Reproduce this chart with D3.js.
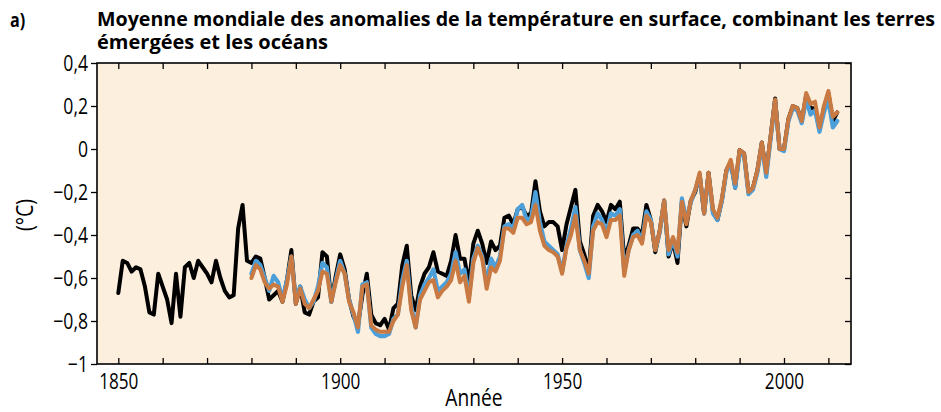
<!DOCTYPE html>
<html><head><meta charset="utf-8">
<script src="https://cdn.jsdelivr.net/npm/d3@7"></script>
<style>body{margin:0;background:#fff} svg{display:block}</style>
</head><body><svg id="c" width="941" height="412"></svg>
<script>
// ---------- data ----------
const firstYearHad = 1850;
const firstYearOthers = 1880;
// HadCRUT4 (black)
const hadcrut4 = [
-0.67,-0.52,-0.53,-0.57,-0.55,-0.56,-0.64,-0.76,-0.77,-0.58,
-0.64,-0.70,-0.81,-0.58,-0.78,-0.55,-0.53,-0.60,-0.52,-0.55,
-0.58,-0.62,-0.52,-0.60,-0.66,-0.69,-0.68,-0.37,-0.26,-0.52,
-0.53,-0.50,-0.51,-0.60,-0.70,-0.68,-0.66,-0.71,-0.61,-0.47,
-0.72,-0.64,-0.76,-0.77,-0.71,-0.69,-0.48,-0.50,-0.71,-0.59,
-0.49,-0.56,-0.70,-0.78,-0.82,-0.68,-0.58,-0.77,-0.81,-0.82,
-0.79,-0.84,-0.74,-0.72,-0.54,-0.45,-0.68,-0.75,-0.64,-0.58,
-0.55,-0.48,-0.57,-0.58,-0.59,-0.52,-0.40,-0.51,-0.51,-0.63,
-0.44,-0.38,-0.44,-0.53,-0.43,-0.47,-0.45,-0.32,-0.31,-0.35,
-0.28,-0.27,-0.31,-0.30,-0.15,-0.29,-0.36,-0.34,-0.34,-0.36,
-0.47,-0.35,-0.27,-0.19,-0.43,-0.49,-0.57,-0.31,-0.26,-0.29,
-0.34,-0.26,-0.28,-0.245,-0.51,-0.45,-0.37,-0.37,-0.40,-0.26,
-0.33,-0.48,-0.38,-0.24,-0.50,-0.43,-0.53,-0.245,-0.36,-0.24,
-0.20,-0.12,-0.30,-0.11,-0.29,-0.33,-0.24,-0.10,-0.06,-0.18,
-0.005,-0.02,-0.20,-0.18,-0.10,0.03,-0.11,0.06,0.235,0.00,
0.00,0.14,0.20,0.19,0.13,0.25,0.19,0.19,0.09,0.19,
0.26,0.13,0.17
];
// NOAA MLOST (orange)
const noaa = [
-0.60,-0.54,-0.56,-0.62,-0.65,-0.63,-0.64,-0.71,-0.63,-0.50,
-0.72,-0.65,-0.72,-0.74,-0.70,-0.66,-0.57,-0.58,-0.71,-0.62,
-0.54,-0.58,-0.71,-0.76,-0.83,-0.64,-0.63,-0.82,-0.84,-0.85,
-0.85,-0.85,-0.80,-0.77,-0.64,-0.54,-0.75,-0.83,-0.70,-0.66,
-0.62,-0.61,-0.69,-0.66,-0.64,-0.61,-0.52,-0.62,-0.59,-0.71,
-0.53,-0.46,-0.51,-0.65,-0.55,-0.57,-0.52,-0.37,-0.37,-0.39,
-0.32,-0.32,-0.35,-0.34,-0.26,-0.38,-0.45,-0.47,-0.48,-0.50,
-0.58,-0.46,-0.40,-0.31,-0.47,-0.52,-0.58,-0.38,-0.34,-0.35,
-0.41,-0.33,-0.33,-0.31,-0.59,-0.47,-0.41,-0.40,-0.44,-0.31,
-0.34,-0.47,-0.38,-0.24,-0.47,-0.41,-0.48,-0.245,-0.35,-0.24,
-0.19,-0.11,-0.30,-0.11,-0.28,-0.32,-0.23,-0.10,-0.05,-0.16,
-0.005,-0.02,-0.20,-0.18,-0.10,0.03,-0.11,0.06,0.23,0.00,
0.00,0.14,0.20,0.19,0.13,0.26,0.21,0.22,0.10,0.20,
0.27,0.15,0.17
];
// NASA GISS (blue)
const giss = [
-0.58,-0.52,-0.54,-0.60,-0.66,-0.59,-0.62,-0.70,-0.61,-0.50,
-0.71,-0.64,-0.70,-0.74,-0.71,-0.64,-0.53,-0.55,-0.71,-0.61,
-0.52,-0.58,-0.70,-0.77,-0.85,-0.63,-0.62,-0.83,-0.86,-0.87,
-0.87,-0.86,-0.79,-0.77,-0.61,-0.52,-0.73,-0.83,-0.68,-0.63,
-0.60,-0.56,-0.66,-0.64,-0.62,-0.58,-0.48,-0.58,-0.56,-0.69,
-0.51,-0.45,-0.50,-0.62,-0.51,-0.55,-0.50,-0.36,-0.35,-0.37,
-0.28,-0.26,-0.33,-0.32,-0.20,-0.34,-0.43,-0.45,-0.47,-0.49,
-0.57,-0.45,-0.37,-0.27,-0.47,-0.53,-0.60,-0.36,-0.30,-0.33,
-0.39,-0.30,-0.31,-0.28,-0.57,-0.47,-0.40,-0.38,-0.43,-0.29,
-0.33,-0.47,-0.39,-0.24,-0.49,-0.42,-0.50,-0.23,-0.33,-0.25,
-0.19,-0.12,-0.30,-0.12,-0.30,-0.33,-0.24,-0.11,-0.06,-0.18,
-0.02,-0.03,-0.21,-0.19,-0.11,0.02,-0.13,0.05,0.22,0.00,
-0.01,0.13,0.19,0.18,0.12,0.23,0.16,0.18,0.08,0.17,
0.23,0.10,0.13
];
const xTicks = [1850,1860,1870,1880,1890,1900,1910,1920,1930,1940,1950,1960,1970,1980,1990,2000,2010];
const xTickLabels = ["1850","","","","","1900","","","","","1950","","","","","2000",""];
const yTicks = [-1,-0.8,-0.6,-0.4,-0.2,0,0.2,0.4];
const yTickLabels = ["\u22121","\u22120,8","\u22120,6","\u22120,4","\u22120,2","0","0,2","0,4"];
const panelLabel = "a)";
const titleLines = ["Moyenne mondiale des anomalies de la température en surface, combinant les terres","émergées et les océans"];
const xTitle = "Année";
const yTitle = "(°C)";

// ---------- drawing ----------
const svg = d3.select("#c");
const L = 97, R = 851, T = 63, B = 364;
const x = d3.scaleLinear().domain([1845.2, 2015.1]).range([L, R]);
const y = d3.scaleLinear().domain([-1, 0.4]).range([B, T]);
const font = "'Open Sans', 'Noto Sans', sans-serif";

function condense(sel, f){
  sel.each(function(){
    const w = this.getComputedTextLength();
    d3.select(this).attr("textLength", w*f).attr("lengthAdjust","spacingAndGlyphs");
  });
}

svg.append("rect").attr("x",L).attr("y",T).attr("width",R-L).attr("height",B-T).attr("fill","#fdefde");

const mk = (arr, y0) => arr.map((v,i)=>({year:y0+i, value:v}));
const line = d3.line().x(d=>x(d.year)).y(d=>y(d.value)).curve(d3.curveLinear);
const series = [
  {data: mk(hadcrut4, firstYearHad), color:"#000000", w:4},
  {data: mk(giss, firstYearOthers), color:"#4d9fd9", w:4.2},
  {data: mk(noaa, firstYearOthers), color:"#c97a42", w:4}
];
svg.append("clipPath").attr("id","clp").append("rect").attr("x",L).attr("y",T).attr("width",R-L).attr("height",B-T);
svg.append("g").attr("clip-path","url(#clp)").selectAll("path.s").data(series).join("path")
  .attr("class","s").attr("d",d=>line(d.data)).attr("fill","none")
  .attr("stroke",d=>d.color).attr("stroke-width",d=>d.w)
  .attr("stroke-linejoin","round").attr("stroke-linecap","round");

// axes
const gB = svg.append("g").attr("transform",`translate(0,${B})`)
  .call(d3.axisBottom(x).tickValues(xTicks).tickSize(-6).tickPadding(9).tickFormat((d,i)=>xTickLabels[i]));
const gT = svg.append("g").attr("transform",`translate(0,${T})`)
  .call(d3.axisTop(x).tickValues(xTicks).tickSize(-6).tickFormat(""));
const gL = svg.append("g").attr("transform",`translate(${L},0)`)
  .call(d3.axisLeft(y).tickValues(yTicks).tickSize(6).tickPadding(3).tickFormat((d,i)=>yTickLabels[i]));
const gR = svg.append("g").attr("transform",`translate(${R},0)`)
  .call(d3.axisRight(y).tickValues(yTicks).tickSize(-6).tickFormat(""));
[gB,gT,gL,gR].forEach(g=>{
  g.select(".domain").remove();
  g.selectAll(".tick line").attr("stroke","#000").attr("stroke-width",1.3);
  g.selectAll(".tick text").attr("fill","#000").attr("font-family",font).attr("font-size",22);
});
condense(gB.selectAll(".tick text"), 0.78);
condense(gL.selectAll(".tick text"), 0.8);

svg.append("rect").attr("x",L).attr("y",T).attr("width",R-L).attr("height",B-T)
  .attr("fill","none").attr("stroke","#000").attr("stroke-width",1.6);

// texts
svg.append("text").attr("x",10).attr("y",27).attr("font-family",font).attr("font-weight","bold").attr("font-size",19).text(panelLabel)
  .call(s=>condense(s,0.85));
svg.selectAll("text.title").data(titleLines).join("text").attr("class","title")
  .attr("x",97).attr("y",(d,i)=>26+i*23).attr("font-family",font).attr("font-weight","bold").attr("font-size",19)
  .text(d=>d)
  .attr("textLength",(d,i)=> i===0 ? 838 : 231).attr("lengthAdjust","spacingAndGlyphs");
svg.append("text").attr("x",474).attr("y",406).attr("text-anchor","middle").attr("font-family",font).attr("font-size",24).text(xTitle)
  .call(s=>condense(s,0.8));
svg.append("text").attr("transform","translate(33,215) rotate(-90)").attr("text-anchor","middle").attr("font-family",font).attr("font-size",23).text(yTitle)
  .call(s=>condense(s,0.85));
</script></body></html>
